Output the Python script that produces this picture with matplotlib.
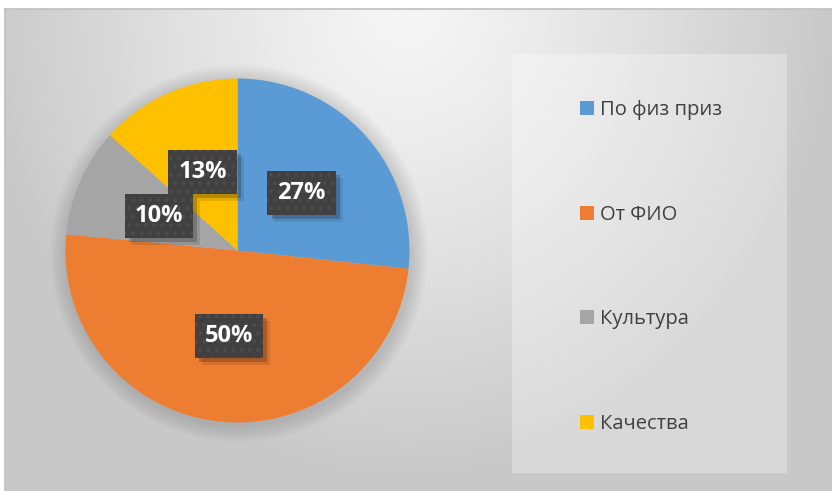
import numpy as np
import matplotlib
matplotlib.use("Agg")
import matplotlib.pyplot as plt
from matplotlib.patches import Rectangle
import matplotlib.patheffects as pe

# data
labels = ["По физ приз", "От ФИО", "Культура", "Качества"]
values = [26.7, 49.8, 10.2, 13.3]
colors = ["#5b9bd5", "#ed7d31", "#a5a5a5", "#ffc000"]

plt.rcParams['font.family'] = ['Open Sans', 'DejaVu Sans']

W, H = 832, 491
fig = plt.figure(figsize=(W / 100, H / 100), dpi=100)
fig.patch.set_facecolor("white")

# chart area background (soft grey gradient)
bg = fig.add_axes([5 / W, 0, (W - 5) / W, (H - 9) / H])
yy, xx = np.mgrid[0:482, 0:827]
d = np.sqrt(((xx - 400) / 430.0) ** 2 + (yy / 470.0) ** 2)
d = np.clip(d, 0, 1) ** 1.2
shade = 0.965 - (0.965 - 0.785) * d
bg.imshow(np.dstack([shade] * 3), aspect="auto", extent=(0, 1, 0, 1),
          origin="upper", interpolation="bilinear")
bg.set_xticks([])
bg.set_yticks([])
for name, s in bg.spines.items():
    s.set_color("#bfbfbf")
    s.set_linewidth(1.2)
    if name in ("right", "bottom"):
        s.set_visible(False)

# legend panel
fig.patches.append(Rectangle((512 / W, 1 - 473 / H), 275 / W, 419 / H,
                             transform=fig.transFigure, facecolor="white",
                             alpha=0.3, edgecolor="none", zorder=1))

# pie
cx, cy, r = 237.5, 250.5, 172
ax = fig.add_axes([(cx - r) / W, (H - cy - r) / H, 2 * r / W, 2 * r / H])

# faint halo / shadow around the pie
for k in range(8):
    ax.add_patch(plt.Circle((0.01, -0.015), 1.0 + 0.012 * (k + 1),
                            color="black", alpha=0.015, lw=0, zorder=0,
                            clip_on=False))

wedges, texts, autotexts = ax.pie(values, colors=colors, startangle=90,
                                  counterclock=False, radius=1,
                                  autopct="%1.0f%%", pctdistance=0.5,
                                  wedgeprops=dict(linewidth=0))
ax.set_xlim(-1, 1)
ax.set_ylim(-1, 1)
ax.set_aspect("auto")

plt.rcParams['hatch.linewidth'] = 1.5
label_style = dict(color="white", fontsize=17, fontweight="bold",
                   ha="center", va="center")
for t in autotexts:
    x, y = t.get_position()
    s = t.get_text()
    # plain box carrying the drop shadow
    t.set(**label_style)
    t.set_bbox(dict(boxstyle="square,pad=0.42", facecolor="#404040",
                    edgecolor="none", linewidth=0))
    t.get_bbox_patch().set_path_effects([
        pe.SimplePatchShadow(offset=(3, -3), shadow_rgbFace="black", alpha=0.2),
        pe.SimplePatchShadow(offset=(5, -5), shadow_rgbFace="black", alpha=0.1),
        pe.Normal()])
    # dotted overlay box on top
    ax.text(x, y, s, zorder=t.get_zorder() + 0.1, **label_style,
            bbox=dict(boxstyle="square,pad=0.42", facecolor="#404040",
                      edgecolor="#4c4c4c", linewidth=0.01, hatch=".."))

# legend
fig.legend(wedges, labels, loc="upper left",
           bbox_to_anchor=(562 / W, 1 - 82 / H), frameon=False,
           fontsize=14.5, labelcolor="#404040", handlelength=0.7,
           handleheight=0.7, handletextpad=0.3, labelspacing=4.2)

fig.savefig("out.png", dpi=100)
